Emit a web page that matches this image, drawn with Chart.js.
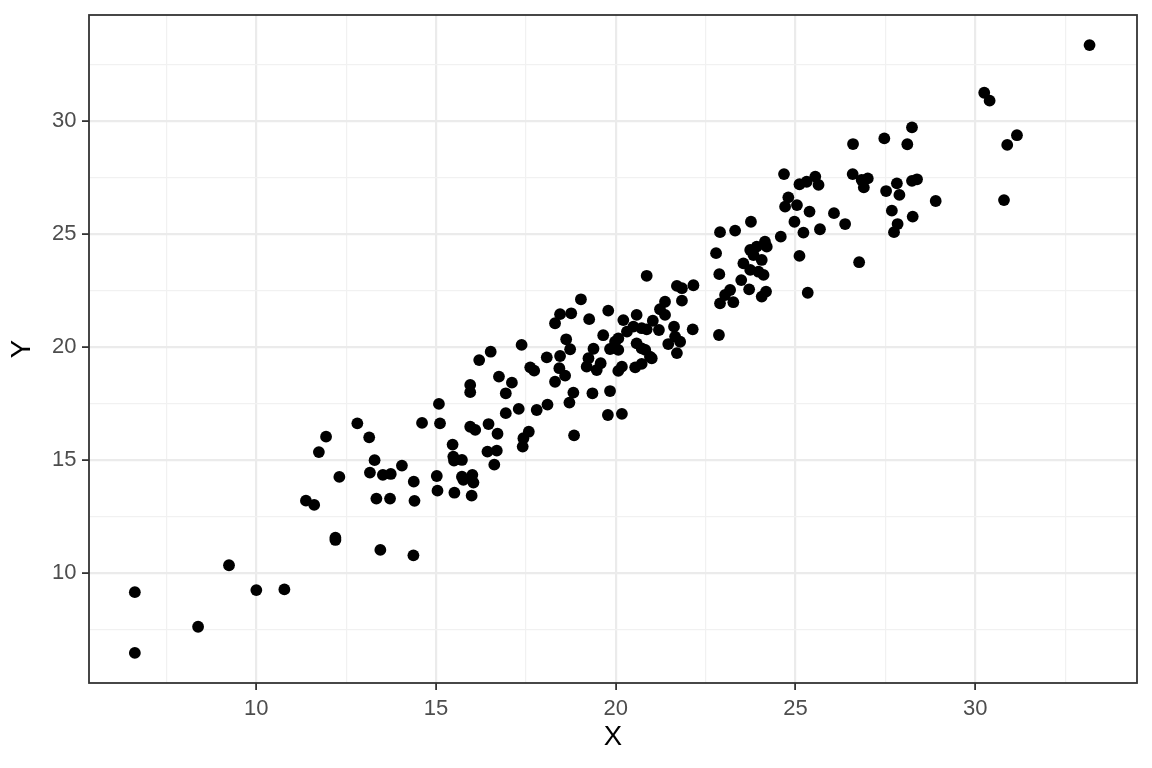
<!DOCTYPE html>
<html lang="en">
<head>
  <meta charset="UTF-8">
  <title>X vs Y scatter</title>
  <script src="https://cdn.jsdelivr.net/npm/chart.js"></script>
  <style>
    body { margin: 0; background: #ffffff; }
  </style>
</head>
<body>
  <canvas id="myChart" width="1152" height="768"></canvas>

  <script>
    // Values
    const xValues = [
      6.62, 6.62, 8.38, 9.24, 10.00, 10.78,
      11.38, 11.61, 11.74, 11.94, 12.20, 12.20, 12.31, 12.81, 13.14, 13.29, 13.16, 13.52, 13.74, 13.34, 13.72, 13.45, 14.05, 14.38, 14.40, 14.37, 14.61,
      15.08, 15.11, 15.02, 15.04, 15.46, 15.48, 15.50, 15.72, 15.51, 15.72, 15.76, 16.01, 16.04, 15.99, 15.95, 15.95, 16.20, 16.52, 16.75, 16.94, 16.94, 15.95, 16.09, 16.46, 16.71, 16.43, 16.69, 16.62,
      19.03, 18.45, 18.31, 18.76, 17.38, 18.62, 18.73, 18.08, 18.45, 17.62, 17.73, 18.43, 18.59, 18.31, 17.11, 18.82, 18.71, 17.30, 17.80, 18.10, 17.58, 17.43, 17.41, 18.84,
      20.86, 19.79, 19.26, 20.58, 20.21, 21.37, 21.23, 21.37, 21.03, 20.49, 20.72, 20.86, 21.20, 19.65, 20.31, 20.07, 19.98, 20.58, 20.72, 20.82, 21.46, 19.38, 19.84, 20.07, 20.95, 21.00, 19.24, 19.19, 19.58, 19.47, 20.17, 20.07, 20.54, 20.72, 19.35, 19.84, 19.78, 20.17,
      23.76, 22.90, 23.32, 24.15, 22.79, 23.74, 23.92, 23.83, 24.06, 23.55, 23.74, 23.97, 24.11, 22.88, 23.49, 23.71, 24.06, 23.18, 23.04, 22.90, 23.27, 21.70, 21.84, 22.16, 21.84, 22.14, 21.62, 21.65, 21.79, 22.87, 21.70, 24.20, 24.18,
      24.68, 25.11, 25.31, 25.55, 25.64, 24.80, 24.71, 25.04, 25.39, 26.07, 26.38, 24.97, 25.22, 25.68, 24.59, 25.11, 26.77, 25.34,
      30.25, 30.40, 28.24, 27.47, 28.11, 26.60, 26.59, 26.84, 27.01, 26.90, 27.52, 27.82, 27.89, 28.24, 28.38, 28.90, 27.68, 28.26, 27.84, 27.74,
      33.18, 31.16, 30.89, 30.80
    ];
    const yValues = [
      9.15, 6.46, 7.62, 10.34, 9.24, 9.27,
      13.20, 13.01, 15.35, 16.03, 11.56, 11.46, 14.25, 16.62, 16.00, 14.99, 14.44, 14.34, 14.38, 13.29, 13.29, 11.02, 14.75, 14.04, 13.19, 10.78, 16.64,
      17.48, 16.62, 14.29, 13.64, 15.68, 15.15, 14.97, 15.00, 13.55, 14.26, 14.12, 14.34, 14.00, 13.42, 18.32, 18.00, 19.42, 19.79, 18.69, 17.95, 17.07, 16.47, 16.33, 16.59, 16.16, 15.37, 15.41, 14.79,
      22.11, 21.45, 21.05, 21.49, 20.09, 20.34, 19.90, 19.54, 19.60, 19.10, 18.95, 19.06, 18.73, 18.46, 18.42, 17.98, 17.54, 17.26, 17.21, 17.45, 16.25, 15.96, 15.59, 16.09,
      23.15, 21.61, 21.23, 21.42, 21.19, 22.00, 21.67, 21.42, 21.16, 20.90, 20.83, 20.78, 20.75, 20.52, 20.68, 20.38, 20.23, 20.16, 19.94, 19.87, 20.13, 19.92, 19.91, 19.87, 19.57, 19.50, 19.50, 19.13, 19.28, 18.98, 19.13, 18.94, 19.10, 19.25, 17.95, 18.05, 16.99, 17.04,
      25.54, 25.08, 25.15, 24.66, 24.15, 24.29, 24.44, 24.07, 23.85, 23.70, 23.41, 23.33, 23.19, 23.22, 22.96, 22.55, 22.23, 22.52, 22.30, 21.93, 21.98, 22.70, 22.60, 22.73, 22.05, 20.78, 20.90, 20.46, 20.23, 20.53, 19.73, 24.44, 22.45,
      27.65, 27.20, 27.31, 27.54, 27.17, 26.62, 26.21, 26.28, 25.99, 25.92, 25.44, 25.54, 25.06, 25.21, 24.88, 24.03, 23.75, 22.40,
      31.25, 30.90, 29.72, 29.23, 28.97, 28.98, 27.65, 27.39, 27.46, 27.06, 26.90, 27.24, 26.73, 27.35, 27.42, 26.46, 26.03, 25.77, 25.44, 25.08,
      33.36, 29.37, 28.94, 26.50
    ];

    const xMajor = [10, 15, 20, 25, 30];
    const xMinor = [7.5, 12.5, 17.5, 22.5, 27.5, 32.5];
    const xTickLabels = ['10', '15', '20', '25', '30'];
    const yMajor = [10, 15, 20, 25, 30];
    const yMinor = [7.5, 12.5, 17.5, 22.5, 27.5, 32.5];
    const yTickLabels = ['10', '15', '20', '25', '30'];

    const points = xValues.map((x, i) => ({ x: x, y: yValues[i] }));
    const fontFamily = '"Liberation Sans", Arial, Helvetica, sans-serif';

    function allTicks(major, minor) {
      return major.concat(minor).sort((a, b) => a - b).map(v => ({ value: v }));
    }

    // ggplot theme_bw style panel border on all four sides
    const panelBorder = {
      id: 'panelBorder',
      afterDatasetsDraw(chart) {
        const { ctx, chartArea } = chart;
        ctx.save();
        ctx.strokeStyle = '#333333';
        ctx.lineWidth = 1.8;
        ctx.strokeRect(chartArea.left, chartArea.top, chartArea.right - chartArea.left, chartArea.bottom - chartArea.top);
        ctx.restore();
      }
    };

    function axisOptions(major, minor, labels, min, max, title, isX) {
      return {
        type: 'linear',
        min: min,
        max: max,
        afterBuildTicks: scale => { scale.ticks = allTicks(major, minor); },
        afterFit: scale => {
          if (isX) {
            scale.height = 85;
            scale.paddingLeft = 0;
            scale.paddingRight = 0;
          } else {
            scale.width = 89;
            scale.paddingTop = 0;
            scale.paddingBottom = 0;
          }
        },
        border: { display: false },
        grid: {
          color: c => major.includes(c.tick && c.tick.value) ? '#EBEBEB' : '#F1F1F1',
          lineWidth: c => major.includes(c.tick && c.tick.value) ? 2.2 : 1.2,
          tickColor: c => major.includes(c.tick && c.tick.value) ? '#333333' : 'rgba(0,0,0,0)',
          tickWidth: 1.8,
          tickLength: 7,
          drawTicks: true
        },
        ticks: {
          autoSkip: false,
          maxRotation: 0,
          padding: isX ? 6 : 5.5,
          color: '#4D4D4D',
          font: { family: fontFamily, size: 22 },
          callback: value => {
            const i = major.indexOf(value);
            return i >= 0 ? labels[i] : '';
          }
        },
        title: {
          display: true,
          text: title,
          color: '#000000',
          font: { family: fontFamily, size: 27.5 },
          padding: isX ? { top: 0, bottom: 14 } : { top: 5.5, bottom: 0 }
        }
      };
    }

    const ctx = document.getElementById('myChart').getContext('2d');
    const myChartInstance = new Chart(ctx, {
      type: 'scatter',
      data: {
        datasets: [{
          data: points,
          backgroundColor: '#000000',
          borderWidth: 0,
          pointRadius: 5.9,
          pointHoverRadius: 5.9
        }]
      },
      options: {
        responsive: false,
        animation: false,
        layout: { padding: { top: 15, right: 15, left: 0, bottom: 0 } },
        plugins: {
          legend: { display: false },
          tooltip: { enabled: false }
        },
        scales: {
          x: axisOptions(xMajor, xMinor, xTickLabels, 5.345, 34.50, 'X', true),
          y: axisOptions(yMajor, yMinor, yTickLabels, 5.13, 34.69, 'Y', false)
        }
      },
      plugins: [panelBorder]
    });
  </script>
</body>
</html>
